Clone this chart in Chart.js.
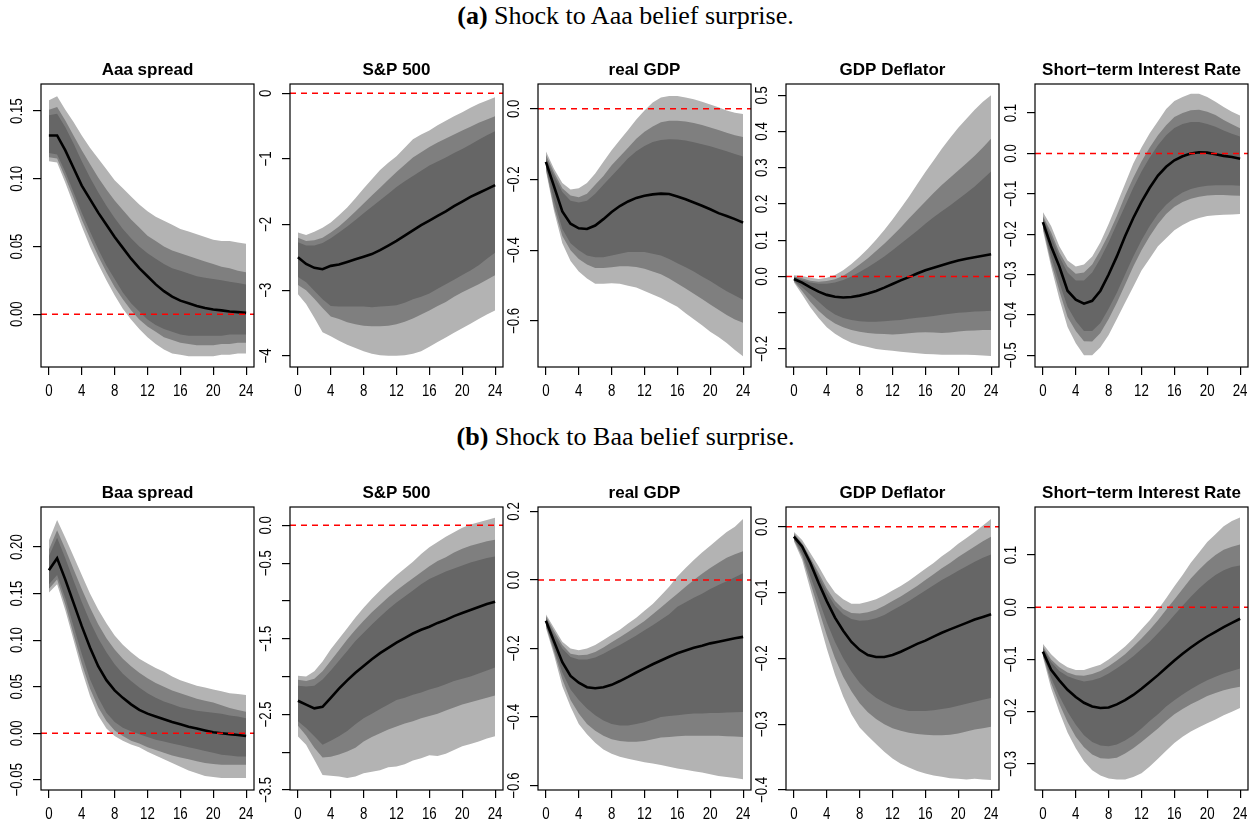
<!DOCTYPE html>
<html>
<head>
<meta charset="utf-8">
<title>Shock to Aaa / Baa belief surprise</title>
<script src="https://cdn.jsdelivr.net/npm/chart.js@4.4.1/dist/chart.umd.min.js"></script>
<style>
  body { margin: 0; background: #fff; }
  #page { position: relative; width: 1251px; height: 825px; overflow: hidden; background: #fff; }
  .caption { position: absolute; left: 0; width: 1251px; text-align: center; color: #000;
             font-family: "Liberation Serif", "Times New Roman", serif; font-size: 26px; line-height: 26px; }
  canvas { position: absolute; }
</style>
</head>
<body>
<div id="page">
  <div class="caption" style="top:3px"><b>(a)</b> Shock to Aaa belief surprise.</div>
  <div class="caption" style="top:424px"><b>(b)</b> Shock to Baa belief surprise.</div>
</div>
<script>
const horizons = [0,1,2,3,4,5,6,7,8,9,10,11,12,13,14,15,16,17,18,19,20,21,22,23,24];
const xTicks = [0,4,8,12,16,20,24];
const xLabels = ['0','4','8','12','16','20','24'];

// (a) Aaa spread
const aAaaMed     = [0.132,0.132,0.121,0.108,0.095,0.085,0.075,0.066,0.057,0.049,0.041,0.034,0.028,0.022,0.017,0.013,0.010,0.008,0.006,0.0045,0.0035,0.0028,0.002,0.0015,0.001];
const aAaaLightHi = [0.158,0.161,0.151,0.142,0.132,0.123,0.115,0.107,0.099,0.093,0.087,0.081,0.076,0.072,0.069,0.066,0.063,0.061,0.059,0.057,0.055,0.054,0.054,0.053,0.052];
const aAaaMidHi   = [0.151,0.153,0.143,0.132,0.121,0.111,0.101,0.092,0.084,0.077,0.070,0.064,0.058,0.054,0.050,0.047,0.045,0.043,0.041,0.039,0.037,0.035,0.034,0.032,0.031];
const aAaaDarkHi  = [0.147,0.148,0.138,0.126,0.113,0.101,0.090,0.080,0.071,0.063,0.056,0.050,0.045,0.041,0.037,0.034,0.032,0.030,0.028,0.027,0.026,0.025,0.024,0.023,0.022];
const aAaaDarkLo  = [0.119,0.118,0.105,0.090,0.075,0.061,0.048,0.036,0.026,0.016,0.008,0.002,-0.004,-0.008,-0.011,-0.013,-0.015,-0.016,-0.016,-0.016,-0.016,-0.016,-0.015,-0.015,-0.015];
const aAaaMidLo   = [0.116,0.115,0.101,0.086,0.070,0.056,0.043,0.031,0.020,0.011,0.003,-0.004,-0.009,-0.013,-0.017,-0.019,-0.021,-0.022,-0.023,-0.023,-0.023,-0.022,-0.022,-0.021,-0.021];
const aAaaLightLo = [0.113,0.112,0.097,0.081,0.065,0.050,0.037,0.025,0.014,0.004,-0.004,-0.011,-0.017,-0.022,-0.026,-0.029,-0.030,-0.031,-0.031,-0.031,-0.031,-0.030,-0.030,-0.029,-0.029];
const aAaaRange = [-0.039, 0.170];
const aAaaTicks = [0, 0.05, 0.10, 0.15];
const aAaaLabels = ['0.00','0.05','0.10','0.15'];

// (a) S&P 500
const aSpMed     = [-2.50,-2.60,-2.66,-2.68,-2.63,-2.61,-2.57,-2.53,-2.49,-2.45,-2.39,-2.32,-2.25,-2.17,-2.09,-2.01,-1.94,-1.87,-1.80,-1.72,-1.65,-1.58,-1.52,-1.46,-1.40];
const aSpLightHi = [-2.12,-2.16,-2.11,-2.05,-1.97,-1.86,-1.74,-1.60,-1.45,-1.31,-1.17,-1.06,-0.96,-0.83,-0.70,-0.63,-0.57,-0.49,-0.42,-0.35,-0.29,-0.22,-0.16,-0.11,-0.06];
const aSpMidHi   = [-2.20,-2.25,-2.24,-2.20,-2.12,-2.03,-1.92,-1.80,-1.68,-1.56,-1.44,-1.32,-1.20,-1.09,-0.98,-0.90,-0.82,-0.75,-0.69,-0.63,-0.57,-0.51,-0.45,-0.40,-0.35];
const aSpDarkHi  = [-2.27,-2.32,-2.32,-2.28,-2.21,-2.12,-2.03,-1.93,-1.83,-1.73,-1.63,-1.53,-1.43,-1.34,-1.26,-1.18,-1.10,-1.04,-0.98,-0.91,-0.85,-0.78,-0.71,-0.64,-0.58];
const aSpDarkLo  = [-2.80,-2.88,-3.01,-3.14,-3.24,-3.25,-3.25,-3.25,-3.25,-3.26,-3.25,-3.24,-3.23,-3.19,-3.14,-3.10,-3.05,-2.98,-2.91,-2.84,-2.77,-2.70,-2.62,-2.52,-2.43];
const aSpMidLo   = [-2.92,-3.00,-3.13,-3.27,-3.40,-3.44,-3.49,-3.52,-3.54,-3.55,-3.55,-3.54,-3.52,-3.48,-3.43,-3.37,-3.31,-3.24,-3.18,-3.10,-3.03,-2.97,-2.91,-2.84,-2.77];
const aSpLightLo = [-3.06,-3.21,-3.42,-3.64,-3.70,-3.77,-3.83,-3.88,-3.93,-3.97,-3.99,-4.00,-4.00,-3.99,-3.97,-3.93,-3.86,-3.79,-3.72,-3.65,-3.58,-3.51,-3.44,-3.37,-3.31];
const aSpRange = [-4.17, 0.14];
const aSpTicks = [0, -1, -2, -3, -4];
const aSpLabels = ['0','\u22121','\u22122','\u22123','\u22124'];

// (a) real GDP
const aGdpMed     = [-0.150,-0.220,-0.290,-0.325,-0.338,-0.340,-0.330,-0.312,-0.292,-0.275,-0.262,-0.252,-0.246,-0.242,-0.240,-0.241,-0.248,-0.256,-0.265,-0.274,-0.284,-0.295,-0.303,-0.312,-0.322];
const aGdpLightHi = [-0.120,-0.170,-0.210,-0.228,-0.225,-0.210,-0.183,-0.150,-0.117,-0.088,-0.060,-0.030,-0.005,0.018,0.032,0.036,0.036,0.032,0.027,0.020,0.012,0.004,-0.005,-0.011,-0.015];
const aGdpMidHi   = [-0.130,-0.180,-0.225,-0.245,-0.250,-0.240,-0.215,-0.190,-0.160,-0.135,-0.110,-0.085,-0.065,-0.050,-0.038,-0.034,-0.034,-0.036,-0.040,-0.046,-0.053,-0.060,-0.068,-0.075,-0.080];
const aGdpDarkHi  = [-0.140,-0.190,-0.235,-0.260,-0.265,-0.260,-0.240,-0.215,-0.190,-0.165,-0.140,-0.120,-0.105,-0.094,-0.088,-0.086,-0.087,-0.090,-0.095,-0.100,-0.106,-0.113,-0.120,-0.128,-0.135];
const aGdpDarkLo  = [-0.165,-0.260,-0.340,-0.380,-0.400,-0.415,-0.420,-0.420,-0.415,-0.410,-0.405,-0.405,-0.405,-0.410,-0.415,-0.425,-0.437,-0.448,-0.460,-0.474,-0.487,-0.502,-0.516,-0.528,-0.540];
const aGdpMidLo   = [-0.170,-0.280,-0.360,-0.400,-0.425,-0.440,-0.450,-0.450,-0.448,-0.445,-0.445,-0.447,-0.452,-0.460,-0.468,-0.480,-0.494,-0.508,-0.523,-0.538,-0.553,-0.568,-0.583,-0.596,-0.605];
const aGdpLightLo = [-0.175,-0.290,-0.380,-0.430,-0.460,-0.480,-0.495,-0.495,-0.493,-0.495,-0.500,-0.505,-0.515,-0.525,-0.535,-0.548,-0.560,-0.578,-0.595,-0.612,-0.630,-0.645,-0.662,-0.682,-0.700];
const aGdpRange = [-0.730, 0.070];
const aGdpTicks = [0, -0.2, -0.4, -0.6];
const aGdpLabels = ['0.0','\u22120.2','\u22120.4','\u22120.6'];

// (a) GDP Deflator
const aDefMed     = [-0.007,-0.017,-0.030,-0.042,-0.051,-0.056,-0.058,-0.057,-0.053,-0.047,-0.040,-0.031,-0.021,-0.011,-0.002,0.008,0.017,0.024,0.031,0.038,0.044,0.049,0.053,0.057,0.061];
const aDefLightHi = [0.003,0.001,-0.004,-0.007,-0.004,0.004,0.017,0.034,0.054,0.076,0.101,0.128,0.157,0.188,0.220,0.254,0.288,0.320,0.352,0.382,0.410,0.435,0.460,0.482,0.500];
const aDefMidHi   = [0.000,-0.005,-0.012,-0.015,-0.013,-0.008,0.002,0.016,0.033,0.050,0.070,0.090,0.112,0.135,0.160,0.183,0.207,0.230,0.252,0.272,0.292,0.312,0.333,0.356,0.380];
const aDefDarkHi  = [-0.002,-0.010,-0.017,-0.020,-0.020,-0.017,-0.010,0.000,0.012,0.025,0.040,0.055,0.072,0.090,0.108,0.126,0.145,0.163,0.180,0.196,0.213,0.230,0.248,0.269,0.290];
const aDefDarkLo  = [-0.012,-0.030,-0.050,-0.070,-0.090,-0.105,-0.115,-0.120,-0.124,-0.125,-0.125,-0.124,-0.122,-0.120,-0.117,-0.114,-0.112,-0.109,-0.106,-0.103,-0.100,-0.099,-0.097,-0.096,-0.095];
const aDefMidLo   = [-0.014,-0.040,-0.070,-0.095,-0.115,-0.130,-0.140,-0.148,-0.153,-0.156,-0.158,-0.159,-0.160,-0.159,-0.157,-0.155,-0.154,-0.155,-0.156,-0.155,-0.152,-0.150,-0.149,-0.148,-0.148];
const aDefLightLo = [-0.016,-0.050,-0.085,-0.115,-0.140,-0.158,-0.172,-0.183,-0.190,-0.195,-0.200,-0.203,-0.205,-0.208,-0.210,-0.212,-0.214,-0.215,-0.216,-0.216,-0.216,-0.216,-0.217,-0.218,-0.220];
const aDefRange = [-0.250, 0.531];
const aDefTicks = [0.5, 0.4, 0.3, 0.2, 0.1, 0, -0.1, -0.2];
const aDefLabels = ['0.5','0.4','0.3','0.2','0.1','0.0','','\u22120.2'];

// (a) Short-term Interest Rate
const aRateMed     = [-0.170,-0.230,-0.280,-0.340,-0.362,-0.372,-0.365,-0.340,-0.300,-0.255,-0.205,-0.160,-0.120,-0.085,-0.055,-0.033,-0.017,-0.007,0.000,0.003,0.002,-0.002,-0.006,-0.009,-0.013];
const aRateLightHi = [-0.145,-0.180,-0.230,-0.265,-0.280,-0.275,-0.255,-0.220,-0.175,-0.125,-0.075,-0.025,0.015,0.050,0.080,0.110,0.130,0.140,0.148,0.148,0.140,0.128,0.115,0.103,0.094];
const aRateMidHi   = [-0.155,-0.195,-0.245,-0.280,-0.298,-0.295,-0.275,-0.240,-0.200,-0.155,-0.105,-0.060,-0.020,0.015,0.045,0.070,0.090,0.100,0.107,0.108,0.103,0.095,0.083,0.072,0.062];
const aRateDarkHi  = [-0.160,-0.205,-0.255,-0.295,-0.315,-0.315,-0.295,-0.260,-0.220,-0.175,-0.130,-0.085,-0.045,-0.010,0.020,0.045,0.063,0.073,0.078,0.078,0.073,0.066,0.057,0.049,0.042];
const aRateDarkLo  = [-0.180,-0.255,-0.320,-0.380,-0.415,-0.440,-0.440,-0.420,-0.385,-0.345,-0.300,-0.255,-0.215,-0.180,-0.150,-0.127,-0.110,-0.097,-0.088,-0.083,-0.080,-0.079,-0.079,-0.079,-0.080];
const aRateMidLo   = [-0.185,-0.270,-0.340,-0.405,-0.440,-0.465,-0.466,-0.445,-0.410,-0.370,-0.325,-0.280,-0.240,-0.205,-0.175,-0.150,-0.132,-0.120,-0.112,-0.107,-0.104,-0.103,-0.103,-0.104,-0.105];
const aRateLightLo = [-0.190,-0.280,-0.360,-0.430,-0.470,-0.500,-0.500,-0.480,-0.450,-0.410,-0.370,-0.330,-0.290,-0.260,-0.230,-0.210,-0.190,-0.177,-0.167,-0.160,-0.155,-0.153,-0.152,-0.151,-0.150];
const aRateRange = [-0.529, 0.172];
const aRateTicks = [0.1, 0, -0.1, -0.2, -0.3, -0.4, -0.5];
const aRateLabels = ['0.1','0.0','\u22120.1','\u22120.2','\u22120.3','\u22120.4','\u22120.5'];

// (b) Baa spread
const bBaaMed     = [0.175,0.188,0.165,0.140,0.115,0.092,0.072,0.057,0.046,0.038,0.031,0.025,0.021,0.018,0.015,0.012,0.0095,0.007,0.005,0.003,0.001,0.000,-0.001,-0.002,-0.003];
const bBaaLightHi = [0.207,0.229,0.210,0.190,0.170,0.150,0.133,0.118,0.105,0.095,0.087,0.080,0.075,0.070,0.066,0.061,0.057,0.054,0.051,0.049,0.047,0.045,0.043,0.042,0.041];
const bBaaMidHi   = [0.197,0.218,0.198,0.176,0.155,0.135,0.117,0.102,0.090,0.080,0.072,0.065,0.059,0.054,0.050,0.046,0.043,0.040,0.037,0.035,0.033,0.030,0.027,0.025,0.023];
const bBaaDarkHi  = [0.190,0.210,0.188,0.164,0.141,0.120,0.102,0.087,0.074,0.064,0.056,0.049,0.043,0.038,0.034,0.031,0.028,0.026,0.024,0.023,0.022,0.021,0.019,0.018,0.016];
const bBaaDarkLo  = [0.160,0.170,0.145,0.115,0.085,0.058,0.038,0.022,0.012,0.006,0.002,-0.001,-0.004,-0.007,-0.009,-0.011,-0.013,-0.015,-0.017,-0.019,-0.021,-0.023,-0.024,-0.025,-0.025];
const bBaaMidLo   = [0.155,0.165,0.138,0.106,0.075,0.048,0.028,0.013,0.003,-0.003,-0.008,-0.011,-0.015,-0.018,-0.021,-0.024,-0.026,-0.028,-0.030,-0.032,-0.033,-0.034,-0.034,-0.034,-0.034];
const bBaaLightLo = [0.151,0.160,0.132,0.100,0.068,0.040,0.019,0.005,-0.003,-0.008,-0.012,-0.015,-0.020,-0.024,-0.028,-0.032,-0.036,-0.040,-0.043,-0.046,-0.047,-0.048,-0.048,-0.048,-0.048];
const bBaaRange = [-0.061, 0.243];
const bBaaTicks = [0.20, 0.15, 0.10, 0.05, 0, -0.05];
const bBaaLabels = ['0.20','0.15','0.10','0.05','0.00','\u22120.05'];

// (b) S&P 500
const bSpMed     = [-2.32,-2.37,-2.42,-2.40,-2.28,-2.16,-2.05,-1.95,-1.86,-1.77,-1.69,-1.62,-1.55,-1.49,-1.43,-1.38,-1.34,-1.29,-1.25,-1.20,-1.16,-1.12,-1.08,-1.04,-1.01];
const bSpLightHi = [-1.99,-2.00,-1.93,-1.80,-1.64,-1.50,-1.36,-1.22,-1.09,-0.97,-0.86,-0.76,-0.66,-0.57,-0.48,-0.38,-0.29,-0.22,-0.15,-0.09,-0.03,0.01,0.04,0.07,0.10];
const bSpMidHi   = [-2.04,-2.06,-2.03,-1.93,-1.79,-1.65,-1.51,-1.38,-1.26,-1.15,-1.05,-0.95,-0.86,-0.78,-0.70,-0.62,-0.54,-0.47,-0.42,-0.36,-0.31,-0.27,-0.24,-0.21,-0.19];
const bSpDarkHi  = [-2.12,-2.13,-2.12,-2.04,-1.92,-1.79,-1.66,-1.53,-1.42,-1.31,-1.21,-1.11,-1.02,-0.94,-0.86,-0.78,-0.71,-0.66,-0.61,-0.57,-0.53,-0.49,-0.46,-0.43,-0.41];
const bSpDarkLo  = [-2.59,-2.68,-2.79,-2.90,-2.85,-2.79,-2.72,-2.63,-2.55,-2.49,-2.43,-2.37,-2.31,-2.28,-2.24,-2.21,-2.17,-2.14,-2.10,-2.06,-2.03,-2.00,-1.96,-1.92,-1.88];
const bSpMidLo   = [-2.65,-2.78,-2.94,-3.07,-3.06,-3.03,-2.99,-2.94,-2.86,-2.80,-2.75,-2.70,-2.66,-2.62,-2.59,-2.55,-2.52,-2.49,-2.45,-2.41,-2.37,-2.34,-2.31,-2.28,-2.25];
const bSpLightLo = [-2.79,-2.90,-3.10,-3.30,-3.31,-3.32,-3.34,-3.32,-3.28,-3.26,-3.24,-3.20,-3.19,-3.16,-3.11,-3.08,-3.04,-3.05,-3.02,-2.97,-2.92,-2.89,-2.86,-2.82,-2.79];
const bSpRange = [-3.50, 0.243];
const bSpTicks = [0, -0.5, -1, -1.5, -2, -2.5, -3, -3.5];
const bSpLabels = ['0.0','\u22120.5','','\u22121.5','','\u22122.5','','\u22123.5'];

// (b) real GDP
const bGdpMed     = [-0.119,-0.180,-0.240,-0.280,-0.300,-0.313,-0.316,-0.313,-0.306,-0.295,-0.283,-0.270,-0.258,-0.246,-0.235,-0.224,-0.214,-0.206,-0.198,-0.192,-0.185,-0.180,-0.175,-0.170,-0.166];
const bGdpLightHi = [-0.100,-0.140,-0.180,-0.200,-0.205,-0.200,-0.190,-0.175,-0.160,-0.145,-0.127,-0.110,-0.090,-0.070,-0.045,-0.020,0.010,0.035,0.058,0.080,0.100,0.120,0.140,0.155,0.178];
const bGdpMidHi   = [-0.105,-0.150,-0.190,-0.215,-0.220,-0.218,-0.210,-0.197,-0.182,-0.167,-0.152,-0.136,-0.120,-0.100,-0.080,-0.060,-0.040,-0.020,0.000,0.018,0.035,0.050,0.065,0.075,0.084];
const bGdpDarkHi  = [-0.110,-0.160,-0.200,-0.225,-0.232,-0.232,-0.226,-0.215,-0.202,-0.190,-0.176,-0.162,-0.147,-0.132,-0.116,-0.100,-0.078,-0.065,-0.052,-0.040,-0.026,-0.015,-0.004,0.008,0.020];
const bGdpDarkLo  = [-0.130,-0.200,-0.270,-0.320,-0.350,-0.375,-0.395,-0.410,-0.420,-0.425,-0.425,-0.420,-0.415,-0.408,-0.400,-0.397,-0.395,-0.392,-0.390,-0.390,-0.388,-0.388,-0.387,-0.386,-0.385];
const bGdpMidLo   = [-0.135,-0.210,-0.290,-0.350,-0.390,-0.420,-0.440,-0.455,-0.465,-0.470,-0.472,-0.472,-0.470,-0.465,-0.460,-0.458,-0.456,-0.455,-0.455,-0.455,-0.455,-0.455,-0.456,-0.457,-0.458];
const bGdpLightLo = [-0.140,-0.220,-0.310,-0.370,-0.420,-0.450,-0.475,-0.495,-0.507,-0.516,-0.522,-0.527,-0.532,-0.536,-0.540,-0.545,-0.550,-0.554,-0.558,-0.562,-0.567,-0.572,-0.575,-0.578,-0.582];
const bGdpRange = [-0.613, 0.213];
const bGdpTicks = [0.2, 0, -0.2, -0.4, -0.6];
const bGdpLabels = ['0.2','0.0','\u22120.2','\u22120.4','\u22120.6'];

// (b) GDP Deflator
const bDefMed     = [-0.015,-0.030,-0.055,-0.085,-0.113,-0.138,-0.158,-0.175,-0.187,-0.195,-0.198,-0.198,-0.195,-0.190,-0.184,-0.178,-0.173,-0.167,-0.161,-0.156,-0.151,-0.146,-0.141,-0.137,-0.133];
const bDefLightHi = [-0.008,-0.020,-0.040,-0.060,-0.082,-0.100,-0.110,-0.117,-0.117,-0.114,-0.110,-0.104,-0.097,-0.090,-0.082,-0.073,-0.064,-0.055,-0.045,-0.036,-0.026,-0.017,-0.008,0.002,0.012];
const bDefMidHi   = [-0.010,-0.025,-0.047,-0.070,-0.094,-0.113,-0.125,-0.131,-0.132,-0.130,-0.126,-0.120,-0.113,-0.106,-0.098,-0.090,-0.081,-0.072,-0.063,-0.055,-0.046,-0.038,-0.030,-0.022,-0.015];
const bDefDarkHi  = [-0.012,-0.028,-0.050,-0.075,-0.100,-0.120,-0.133,-0.140,-0.143,-0.142,-0.139,-0.134,-0.127,-0.120,-0.113,-0.105,-0.097,-0.089,-0.081,-0.074,-0.067,-0.060,-0.053,-0.047,-0.042];
const bDefDarkLo  = [-0.018,-0.040,-0.075,-0.110,-0.145,-0.175,-0.200,-0.220,-0.237,-0.250,-0.260,-0.267,-0.273,-0.277,-0.280,-0.280,-0.280,-0.279,-0.277,-0.275,-0.272,-0.269,-0.266,-0.263,-0.260];
const bDefMidLo   = [-0.020,-0.045,-0.085,-0.125,-0.165,-0.200,-0.228,-0.250,-0.268,-0.282,-0.292,-0.300,-0.306,-0.310,-0.313,-0.315,-0.316,-0.317,-0.317,-0.316,-0.314,-0.311,-0.308,-0.306,-0.304];
const bDefLightLo = [-0.022,-0.050,-0.095,-0.140,-0.185,-0.225,-0.258,-0.285,-0.305,-0.318,-0.330,-0.342,-0.352,-0.360,-0.366,-0.371,-0.375,-0.378,-0.380,-0.382,-0.383,-0.384,-0.383,-0.384,-0.385];
const bDefRange = [-0.400, 0.030];
const bDefTicks = [0, -0.1, -0.2, -0.3, -0.4];
const bDefLabels = ['0.0','\u22120.1','\u22120.2','\u22120.3','\u22120.4'];

// (b) Short-term Interest Rate
const bRateMed     = [-0.085,-0.120,-0.140,-0.158,-0.172,-0.183,-0.190,-0.193,-0.192,-0.186,-0.178,-0.168,-0.156,-0.143,-0.130,-0.116,-0.102,-0.089,-0.077,-0.066,-0.056,-0.047,-0.038,-0.030,-0.022];
const bRateLightHi = [-0.070,-0.090,-0.105,-0.115,-0.120,-0.120,-0.115,-0.110,-0.100,-0.088,-0.075,-0.060,-0.042,-0.025,-0.005,0.017,0.040,0.062,0.085,0.105,0.125,0.140,0.155,0.165,0.172];
const bRateMidHi   = [-0.075,-0.100,-0.115,-0.125,-0.130,-0.131,-0.128,-0.122,-0.113,-0.102,-0.090,-0.075,-0.060,-0.043,-0.025,-0.005,0.015,0.035,0.055,0.072,0.087,0.100,0.110,0.116,0.120];
const bRateDarkHi  = [-0.078,-0.105,-0.122,-0.132,-0.138,-0.142,-0.140,-0.135,-0.127,-0.117,-0.106,-0.094,-0.080,-0.066,-0.050,-0.033,-0.015,0.003,0.020,0.036,0.050,0.062,0.071,0.077,0.080];
const bRateDarkLo  = [-0.090,-0.135,-0.170,-0.200,-0.225,-0.245,-0.258,-0.265,-0.266,-0.263,-0.255,-0.245,-0.232,-0.218,-0.205,-0.190,-0.178,-0.167,-0.157,-0.148,-0.140,-0.133,-0.127,-0.122,-0.117];
const bRateMidLo   = [-0.092,-0.145,-0.185,-0.220,-0.248,-0.268,-0.282,-0.289,-0.290,-0.288,-0.280,-0.270,-0.258,-0.245,-0.232,-0.218,-0.205,-0.195,-0.186,-0.178,-0.170,-0.164,-0.159,-0.155,-0.152];
const bRateLightLo = [-0.095,-0.155,-0.200,-0.240,-0.270,-0.295,-0.312,-0.322,-0.328,-0.330,-0.330,-0.325,-0.318,-0.305,-0.290,-0.275,-0.260,-0.248,-0.238,-0.230,-0.222,-0.215,-0.207,-0.200,-0.193];
const bRateRange = [-0.35, 0.192];
const bRateTicks = [0.1, 0, -0.1, -0.2, -0.3];
const bRateLabels = ['0.1','0.0','\u22120.1','\u22120.2','\u22120.3'];

const panels = [
  { title: 'Aaa spread', med: aAaaMed, light: [aAaaLightLo, aAaaLightHi], mid: [aAaaMidLo, aAaaMidHi], dark: [aAaaDarkLo, aAaaDarkHi], range: aAaaRange, ticks: aAaaTicks, labels: aAaaLabels },
  { title: 'S&P 500', med: aSpMed, light: [aSpLightLo, aSpLightHi], mid: [aSpMidLo, aSpMidHi], dark: [aSpDarkLo, aSpDarkHi], range: aSpRange, ticks: aSpTicks, labels: aSpLabels },
  { title: 'real GDP', med: aGdpMed, light: [aGdpLightLo, aGdpLightHi], mid: [aGdpMidLo, aGdpMidHi], dark: [aGdpDarkLo, aGdpDarkHi], range: aGdpRange, ticks: aGdpTicks, labels: aGdpLabels },
  { title: 'GDP Deflator', med: aDefMed, light: [aDefLightLo, aDefLightHi], mid: [aDefMidLo, aDefMidHi], dark: [aDefDarkLo, aDefDarkHi], range: aDefRange, ticks: aDefTicks, labels: aDefLabels },
  { title: 'Short\u2212term Interest Rate', med: aRateMed, light: [aRateLightLo, aRateLightHi], mid: [aRateMidLo, aRateMidHi], dark: [aRateDarkLo, aRateDarkHi], range: aRateRange, ticks: aRateTicks, labels: aRateLabels },
  { title: 'Baa spread', med: bBaaMed, light: [bBaaLightLo, bBaaLightHi], mid: [bBaaMidLo, bBaaMidHi], dark: [bBaaDarkLo, bBaaDarkHi], range: bBaaRange, ticks: bBaaTicks, labels: bBaaLabels },
  { title: 'S&P 500', med: bSpMed, light: [bSpLightLo, bSpLightHi], mid: [bSpMidLo, bSpMidHi], dark: [bSpDarkLo, bSpDarkHi], range: bSpRange, ticks: bSpTicks, labels: bSpLabels },
  { title: 'real GDP', med: bGdpMed, light: [bGdpLightLo, bGdpLightHi], mid: [bGdpMidLo, bGdpMidHi], dark: [bGdpDarkLo, bGdpDarkHi], range: bGdpRange, ticks: bGdpTicks, labels: bGdpLabels },
  { title: 'GDP Deflator', med: bDefMed, light: [bDefLightLo, bDefLightHi], mid: [bDefMidLo, bDefMidHi], dark: [bDefDarkLo, bDefDarkHi], range: bDefRange, ticks: bDefTicks, labels: bDefLabels },
  { title: 'Short\u2212term Interest Rate', med: bRateMed, light: [bRateLightLo, bRateLightHi], mid: [bRateMidLo, bRateMidHi], dark: [bRateDarkLo, bRateDarkHi], range: bRateRange, ticks: bRateTicks, labels: bRateLabels }
];

// layout of the 2 x 5 grid (plot box positions in page pixels)
const colLeft = [41, 290, 538, 786, 1035];
const rowTop = [84, 507];
const BOX_W = 213, BOX_H = 283;
const PAD_L = 44, PAD_R = 4, PAD_T = 34, PAD_B = 36;

const LIGHT = '#b3b3b3', MID = '#7f7f7f', DARK = '#666666';
const NONE = 'rgba(0,0,0,0)';
const tickFont = '16px "Liberation Sans", Arial, sans-serif';

// R-like decoration: box, title, zero line, narrow tick labels
const rStyle = {
  id: 'rStyle',
  afterDatasetsDraw(chart) {
    const { ctx, chartArea: a, scales: { y } } = chart;
    const y0 = y.getPixelForValue(0);
    ctx.save();
    ctx.strokeStyle = '#ff0000';
    ctx.lineWidth = 1.5;
    ctx.setLineDash([6, 5]);
    ctx.beginPath();
    ctx.moveTo(a.left, y0);
    ctx.lineTo(a.right, y0);
    ctx.stroke();
    ctx.restore();
  },
  afterDraw(chart, args, opts) {
    const { ctx, chartArea: a, scales: { x, y } } = chart;
    ctx.save();
    ctx.strokeStyle = '#000';
    ctx.lineWidth = 1.2;
    ctx.strokeRect(a.left, a.top, a.right - a.left, a.bottom - a.top);

    ctx.fillStyle = '#000';
    ctx.textAlign = 'center';
    ctx.textBaseline = 'middle';
    ctx.font = 'bold 17px "Liberation Sans", Arial, sans-serif';
    ctx.fillText(opts.title, (a.left + a.right) / 2, a.top - 14);

    ctx.font = tickFont;
    x.ticks.forEach((t, i) => {
      ctx.save();
      ctx.translate(x.getPixelForValue(t.value), a.bottom + 24.5);
      ctx.scale(0.83, 1);
      ctx.fillText(xLabels[i], 0, 0);
      ctx.restore();
    });
    y.ticks.forEach((t, i) => {
      const lab = opts.labels[i];
      if (!lab) return;
      ctx.save();
      ctx.translate(a.left - 23.5, y.getPixelForValue(t.value));
      ctx.rotate(-Math.PI / 2);
      ctx.scale(0.83, 1);
      ctx.fillText(lab, 0, 0);
      ctx.restore();
    });
    ctx.restore();
  }
};

const page = document.getElementById('page');
const pts = arr => horizons.map((h, k) => ({ x: h, y: arr[k] }));

panels.forEach((p, i) => {
  const col = i % 5, row = Math.floor(i / 5);
  const W = PAD_L + BOX_W + PAD_R, H = PAD_T + BOX_H + PAD_B;
  const cv = document.createElement('canvas');
  cv.width = W; cv.height = H;
  cv.style.width = W + 'px'; cv.style.height = H + 'px';
  cv.style.left = (colLeft[col] - PAD_L) + 'px';
  cv.style.top = (rowTop[row] - PAD_T) + 'px';
  page.appendChild(cv);

  const edge = { borderColor: NONE, borderWidth: 0, pointRadius: 0 };
  const datasets = [
    { ...edge, data: pts(p.light[1]), fill: 1, backgroundColor: LIGHT, order: 3 },
    { ...edge, data: pts(p.light[0]), fill: false, order: 3 },
    { ...edge, data: pts(p.mid[1]), fill: 3, backgroundColor: MID, order: 2 },
    { ...edge, data: pts(p.mid[0]), fill: false, order: 2 },
    { ...edge, data: pts(p.dark[1]), fill: 5, backgroundColor: DARK, order: 1 },
    { ...edge, data: pts(p.dark[0]), fill: false, order: 1 },
    { data: pts(p.med), fill: false, borderColor: '#000', borderWidth: 2.6, pointRadius: 0, order: 0 }
  ];

  const gridOpts = { drawOnChartArea: false, drawTicks: true, tickLength: 8, color: '#000', lineWidth: 1.2 };

  new Chart(cv, {
    type: 'line',
    data: { datasets },
    options: {
      responsive: false,
      animation: false,
      devicePixelRatio: 1,
      events: [],
      layout: { autoPadding: false, padding: { left: 0, right: PAD_R, top: PAD_T, bottom: 0 } },
      scales: {
        x: {
          type: 'linear', min: -0.96, max: 24.96,
          afterBuildTicks: ax => { ax.ticks = xTicks.map(v => ({ value: v })); },
          afterFit: s => { s.height = PAD_B; },
          ticks: { display: false },
          grid: gridOpts,
          border: { display: false }
        },
        y: {
          type: 'linear', min: p.range[0], max: p.range[1],
          afterBuildTicks: ax => { ax.ticks = p.ticks.map(v => ({ value: v })); },
          afterFit: s => { s.width = PAD_L; },
          ticks: { display: false },
          grid: gridOpts,
          border: { display: false }
        }
      },
      plugins: {
        legend: { display: false },
        tooltip: { enabled: false },
        rStyle: { title: p.title, labels: p.labels }
      }
    },
    plugins: [rStyle]
  });
});
</script>
</body>
</html>
